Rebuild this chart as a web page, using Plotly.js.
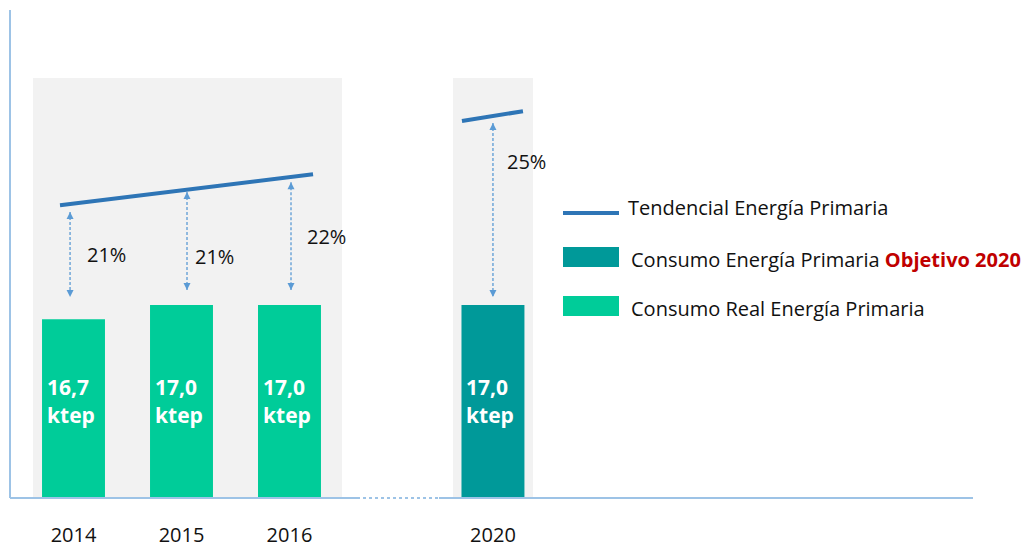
<!DOCTYPE html>
<html>
<head>
<meta charset="utf-8">
<script src="https://cdn.plot.ly/plotly-3.0.1.min.js"></script>
<style>
  html, body { margin: 0; padding: 0; background: #ffffff; }
  #chart { width: 1032px; height: 548px; }
</style>
</head>
<body>
<div id="chart"></div>
<script>
// ---------- data ----------
const years      = ['2014', '2015', '2016', '2020'];
const consumo    = [16.7, 17.0, 17.0, 17.0];            // ktep
const unidad     = 'ktep';
const barKind    = ['real', 'real', 'real', 'objetivo'];
const gapPct     = [21, 21, 22, 25];                     // % gap to trend
// trend line (tendencial), two separate segments
const trendA     = [19.12, 19.78];                       // 2014 -> 2016
const trendB     = [20.91, 21.12];                       // 2020
// arrow ends (value scale)
const arrowTop   = [18.98, 19.40, 19.61, 20.87];
const arrowBot   = [17.17, 17.32, 17.32, 17.17];

// ---------- layout positions (not data) ----------
const xPos       = [0, 1, 2, 3.884];
const trendAX    = [-0.125, 2.218];
const trendBX    = [3.597, 4.162];
const arrowX     = [-0.032, 1.051, 2.014, 3.884];
const pctPos     = [[0.301, 18.08], [1.301, 18.04], [2.338, 18.45], [4.199, 20.06]];

const COL_REAL = '#00cc99', COL_OBJ = '#009999', COL_TREND = '#2e75b6',
      COL_ARROW = '#5b9bd5', COL_AXIS = '#9dc3e6', PANEL = '#f2f2f2';
const FONT = 'Open Sans, Noto Sans, sans-serif';

const traces = [];
traces.push({
  type: 'bar', x: xPos, y: consumo,
  width: 0.583,
  marker: { color: barKind.map(k => k === 'real' ? COL_REAL : COL_OBJ), line: { width: 0 } },
  hoverinfo: 'skip', showlegend: false
});
traces.push({ type: 'scatter', mode: 'lines', x: trendAX, y: trendA,
  line: { color: COL_TREND, width: 4 }, showlegend: false, hoverinfo: 'skip' });
traces.push({ type: 'scatter', mode: 'lines', x: trendBX, y: trendB,
  line: { color: COL_TREND, width: 4 }, showlegend: false, hoverinfo: 'skip' });
for (let i = 0; i < years.length; i++) {
  traces.push({ type: 'scatter', mode: 'lines+markers',
    x: [arrowX[i], arrowX[i]], y: [arrowTop[i], arrowBot[i]],
    line: { color: COL_ARROW, width: 1.3, dash: '3px,2px' },
    marker: { symbol: ['arrow-up', 'arrow-down'], size: 7, color: COL_ARROW, line: { width: 0 } },
    showlegend: false, hoverinfo: 'skip' });
}

// pixel -> paper helpers for legend / label placement
const L = 10, R = 59, T = 10, B = 50, W = 1032, H = 548;
const px = v => (v - L) / (W - L - R);
const py = v => (H - B - v) / (H - T - B);

const shapes = [
  // grey panels
  { type: 'rect', xref: 'x', yref: 'paper', x0: -0.375, x1: 2.486, y0: 0, y1: py(78), fillcolor: PANEL, line: { width: 0 }, layer: 'below' },
  { type: 'rect', xref: 'x', yref: 'paper', x0: 3.514, x1: 4.255, y0: 0, y1: py(78), fillcolor: PANEL, line: { width: 0 }, layer: 'below' },
  // axes
  { type: 'line', xref: 'paper', yref: 'paper', x0: 0, x1: 0, y0: 0, y1: 1, line: { color: COL_AXIS, width: 2 } },
  { type: 'line', xref: 'paper', yref: 'paper', x0: 0, x1: px(357), y0: 0, y1: 0, line: { color: COL_AXIS, width: 2 } },
  { type: 'line', xref: 'paper', yref: 'paper', x0: px(357), x1: px(439), y0: 0, y1: 0, line: { color: COL_AXIS, width: 2, dash: 'dot' } },
  { type: 'line', xref: 'paper', yref: 'paper', x0: px(439), x1: 1, y0: 0, y1: 0, line: { color: COL_AXIS, width: 2 } },
  // legend symbols
  { type: 'line', xref: 'paper', yref: 'paper', x0: px(563), x1: px(619), y0: py(213), y1: py(213), line: { color: COL_TREND, width: 4 } },
  { type: 'rect', xref: 'paper', yref: 'paper', x0: px(563), x1: px(619), y0: py(267), y1: py(247), fillcolor: COL_OBJ, line: { width: 0 } },
  { type: 'rect', xref: 'paper', yref: 'paper', x0: px(563), x1: px(619), y0: py(316), y1: py(296), fillcolor: COL_REAL, line: { width: 0 } }
];

const annotations = [];
// bar value labels (from data)
const barFont = { family: FONT, size: 21, color: '#ffffff', weight: 'bold' };
for (let i = 0; i < consumo.length; i++) {
  const xl = xPos[i] - 0.265;
  annotations.push({ xref: 'x', yref: 'paper', x: xl, y: py(387), xanchor: 'left', yanchor: 'middle',
    text: '<b>' + consumo[i].toFixed(1).replace('.', ',') + '</b>', showarrow: false, font: barFont });
  annotations.push({ xref: 'x', yref: 'paper', x: xl, y: py(415), xanchor: 'left', yanchor: 'middle',
    text: '<b>' + unidad + '</b>', showarrow: false, font: barFont });
}
for (let i = 0; i < gapPct.length; i++) {
  annotations.push({ x: pctPos[i][0], y: pctPos[i][1], xref: 'x', yref: 'y',
    text: gapPct[i] + '%', showarrow: false,
    font: { family: FONT, size: 20, color: '#111111' } });
}
const legFont = { family: FONT, size: 20, color: '#111111' };
annotations.push({ xref: 'paper', yref: 'paper', x: px(626), y: py(208), xanchor: 'left', yanchor: 'middle',
  text: 'Tendencial Energía Primaria', showarrow: false, font: legFont });
annotations.push({ xref: 'paper', yref: 'paper', x: px(629), y: py(259), xanchor: 'left', yanchor: 'middle',
  text: 'Consumo Energía Primaria <b><span style="color:#c00000">Objetivo 2020</span></b>', showarrow: false, font: legFont });
annotations.push({ xref: 'paper', yref: 'paper', x: px(629), y: py(309), xanchor: 'left', yanchor: 'middle',
  text: 'Consumo Real Energía Primaria', showarrow: false, font: legFont });

const layout = {
  width: W, height: H,
  margin: { l: L, r: R, t: T, b: B, pad: 0 },
  paper_bgcolor: '#ffffff', plot_bgcolor: 'rgba(0,0,0,0)',
  separators: ',.',
  showlegend: false,
  xaxis: {
    range: [-0.588, 8.329], tickvals: xPos, ticktext: years,
    showgrid: false, zeroline: false, showline: false,
    ticks: 'outside', ticklen: 19, tickcolor: 'rgba(0,0,0,0)',
    tickfont: { family: FONT, size: 20, color: '#111111' }, automargin: false,
    fixedrange: true
  },
  yaxis: {
    range: [12.9, 23.27], showgrid: false, zeroline: false, showline: false,
    showticklabels: false, ticks: '', fixedrange: true
  },
  shapes: shapes,
  annotations: annotations
};

Plotly.newPlot('chart', traces, layout, { staticPlot: true, displayModeBar: false });
</script>
</body>
</html>
